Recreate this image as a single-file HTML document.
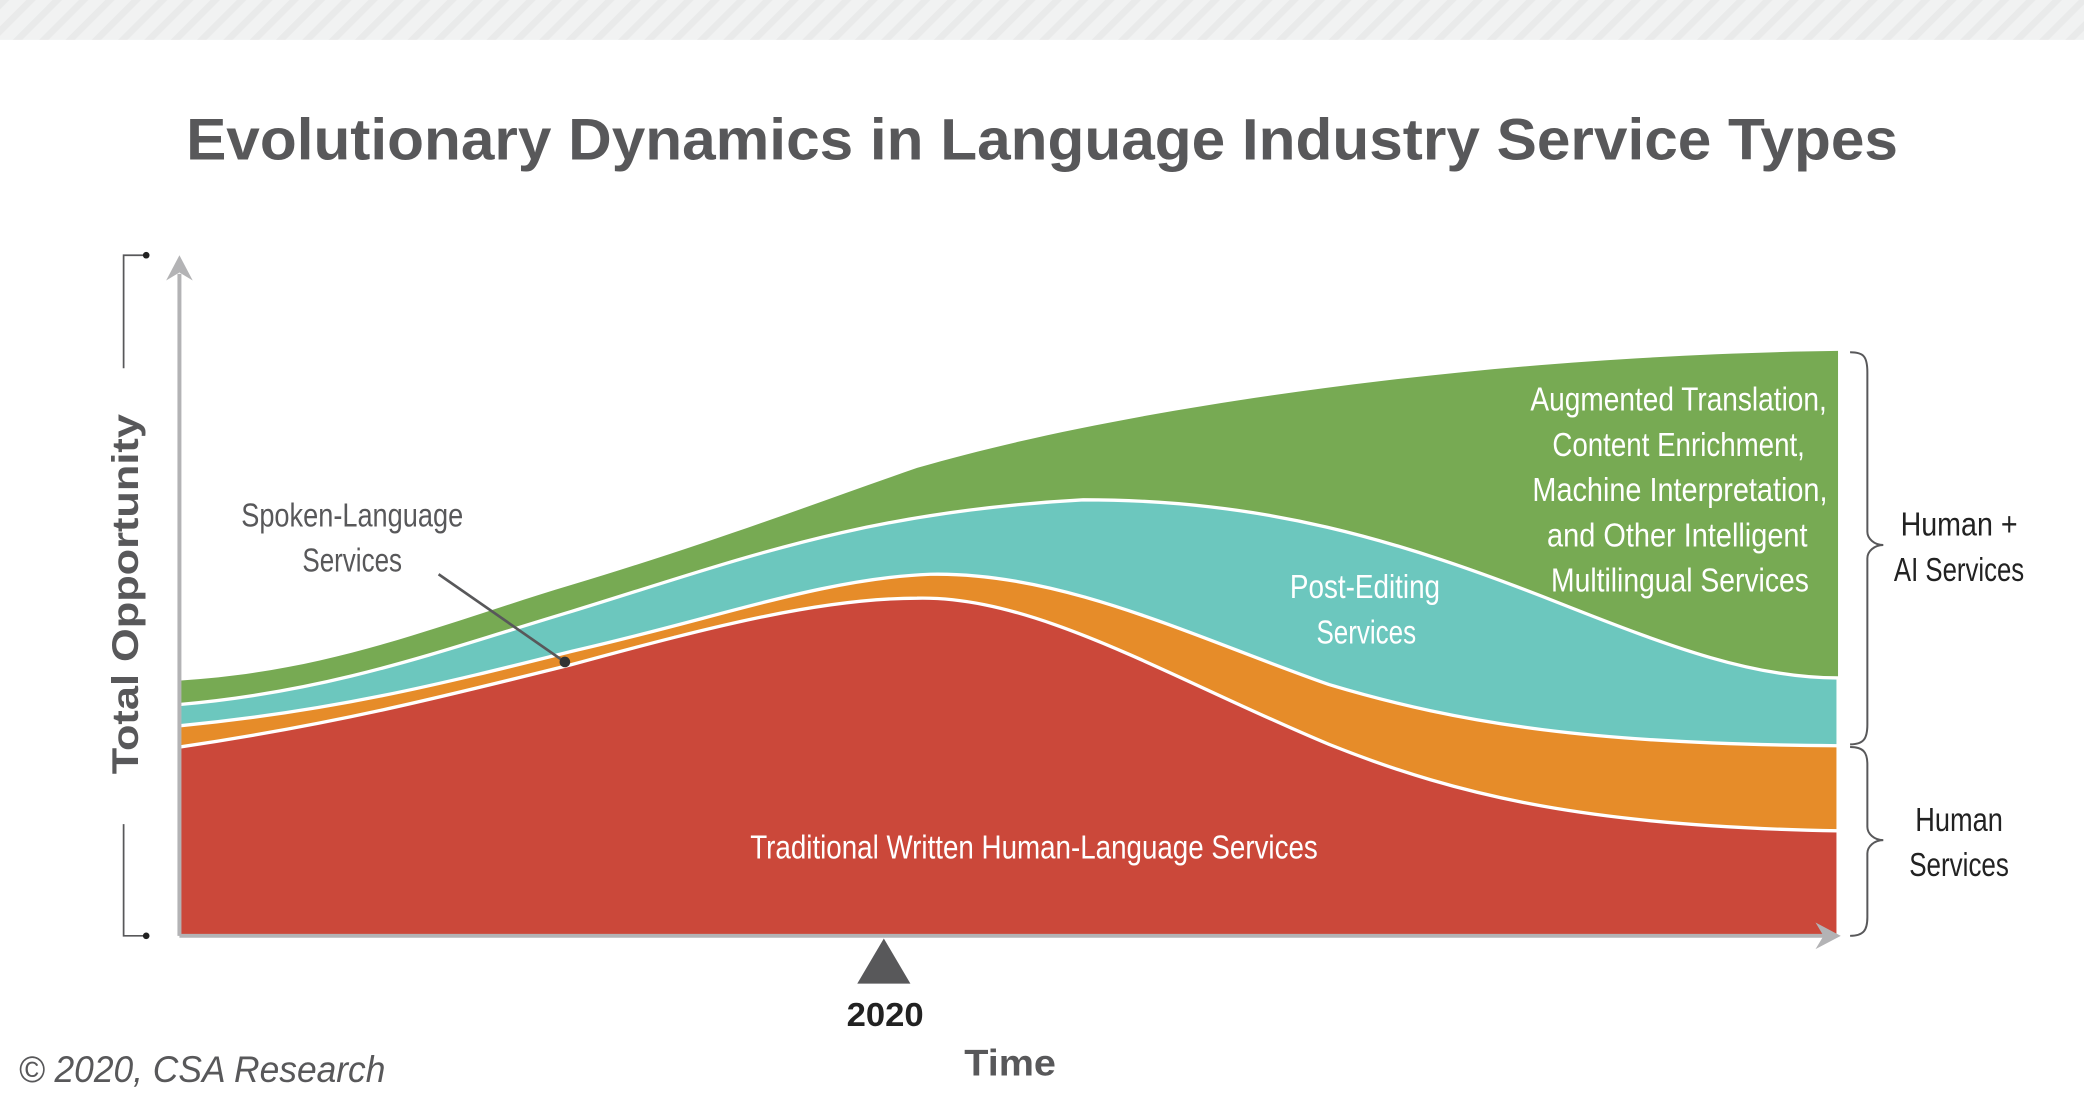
<!DOCTYPE html>
<html><head><meta charset="utf-8"><style>
html,body{margin:0;padding:0;background:#fff;overflow:hidden}
svg{display:block}
text{font-family:"Liberation Sans Narrow","Liberation Sans",sans-serif}
</style></head><body>
<svg width="2084" height="1094" viewBox="0 0 1568 823" preserveAspectRatio="none" xmlns="http://www.w3.org/2000/svg">
<defs>
<pattern id="st" width="14" height="14" patternUnits="userSpaceOnUse" patternTransform="rotate(45)">
<rect width="14" height="14" fill="#f1f2f2"/><rect width="5" height="14" fill="#e9eaea"/>
</pattern>
</defs>
<rect x="0" y="0" width="1568" height="30" fill="url(#st)"/>
<text x="784" y="120" text-anchor="middle" font-size="44" font-weight="bold" fill="#58585a" textLength="1288" lengthAdjust="spacingAndGlyphs">Evolutionary Dynamics in Language Industry Service Types</text>

<path d="M135,512 C250,505 330,470 430,440 C530,410 610,380 690,352 C800,320 950,295 1100,280 C1200,270 1300,265 1383,264 L1383,704 L135,704Z" fill="#77aa53"/>
<path d="M135,530 C250,520 330,490 430,460 C560,420 650,385 815,376 C950,376 1050,405 1174,454 C1260,488 1320,510 1383,510 L1383,704 L135,704Z" fill="#6cc7be" stroke="#fff" stroke-width="2.5"/>
<path d="M135,546 C250,535 330,515 430,490 C540,465 620,435 700,432 C800,430 900,480 1000,515 C1100,545 1200,560 1383,561 L1383,704 L135,704Z" fill="#e68c29" stroke="#fff" stroke-width="2.5"/>
<path d="M135,562 C250,545 330,525 430,500 C540,470 620,450 690,450 C780,448 880,510 1000,560 C1100,600 1200,622 1383,625 L1383,704 L135,704Z" fill="#cb483a" stroke="#fff" stroke-width="2.5"/>
<rect x="1383" y="260" width="10" height="450" fill="#fff"/>

<line x1="135" y1="704" x2="1372" y2="704" stroke="#b3b3b5" stroke-width="3"/>
<polygon points="1385,704 1366,694 1372,704 1366,714" fill="#b3b3b5"/>
<line x1="135" y1="704" x2="135" y2="206" stroke="#b3b3b5" stroke-width="3"/>
<polygon points="135,192 125,211 135,205 145,211" fill="#b3b3b5"/>

<path d="M110,192 H93 V277 M93,620 V704 H110" fill="none" stroke="#58585a" stroke-width="1.3"/>
<circle cx="110" cy="192" r="2.5" fill="#222"/><circle cx="110" cy="704" r="2.5" fill="#222"/>
<text transform="translate(104,447) rotate(-90)" text-anchor="middle" font-size="28" font-weight="bold" fill="#58585a" font-family="Liberation Sans" textLength="271" lengthAdjust="spacingAndGlyphs">Total Opportunity</text>

<g fill="#fff" font-size="25" text-anchor="middle">
<text x="778" y="646" textLength="427" lengthAdjust="spacingAndGlyphs">Traditional Written Human-Language Services</text>
<text x="1027" y="450" textLength="113" lengthAdjust="spacingAndGlyphs">Post-Editing</text>
<text x="1028" y="484" textLength="75" lengthAdjust="spacingAndGlyphs">Services</text>
<text x="1263" y="309" textLength="223" lengthAdjust="spacingAndGlyphs">Augmented Translation,</text>
<text x="1263" y="343" textLength="190" lengthAdjust="spacingAndGlyphs">Content Enrichment,</text>
<text x="1264" y="377" textLength="222" lengthAdjust="spacingAndGlyphs">Machine Interpretation,</text>
<text x="1262" y="411" textLength="196" lengthAdjust="spacingAndGlyphs">and Other Intelligent</text>
<text x="1264" y="445" textLength="194" lengthAdjust="spacingAndGlyphs">Multilingual Services</text>
</g>
<g fill="#58585a" font-size="25" text-anchor="middle">
<text x="265" y="396" textLength="167" lengthAdjust="spacingAndGlyphs">Spoken-Language</text>
<text x="265" y="430" textLength="75" lengthAdjust="spacingAndGlyphs">Services</text>
</g>
<line x1="330" y1="432" x2="425" y2="498" stroke="#58585a" stroke-width="2"/>
<circle cx="425" cy="498" r="4" fill="#333"/>

<path d="M1392,265 C1402,265 1405,268 1405,280 V400 C1405,405 1410,410 1417,410 C1410,410 1405,415 1405,420 V545 C1405,556 1402,560 1392,560 M1392,562 C1402,562 1405,566 1405,575 V622 C1405,627 1410,632 1417,632 C1410,632 1405,637 1405,642 V690 C1405,700 1402,704 1392,704" fill="none" stroke="#58585a" stroke-width="1.5"/>
<g fill="#222" font-size="25" text-anchor="middle">
<text x="1474" y="403" textLength="88" lengthAdjust="spacingAndGlyphs">Human +</text>
<text x="1474" y="437" textLength="98" lengthAdjust="spacingAndGlyphs">AI Services</text>
<text x="1474" y="625" textLength="66" lengthAdjust="spacingAndGlyphs">Human</text>
<text x="1474" y="659" textLength="75" lengthAdjust="spacingAndGlyphs">Services</text>
</g>

<polygon points="665,706 645,740 685,740" fill="#58585a"/>
<text x="666" y="772" text-anchor="middle" font-size="25" font-weight="bold" fill="#222" font-family="Liberation Sans" textLength="58" lengthAdjust="spacingAndGlyphs">2020</text>
<text x="760" y="809" text-anchor="middle" font-size="28" font-weight="bold" fill="#58585a" font-family="Liberation Sans" textLength="69" lengthAdjust="spacingAndGlyphs">Time</text>
<text x="14" y="814" font-size="28" font-style="italic" fill="#58585a" textLength="276" lengthAdjust="spacingAndGlyphs">© 2020, CSA Research</text>
</svg>
</body></html>
